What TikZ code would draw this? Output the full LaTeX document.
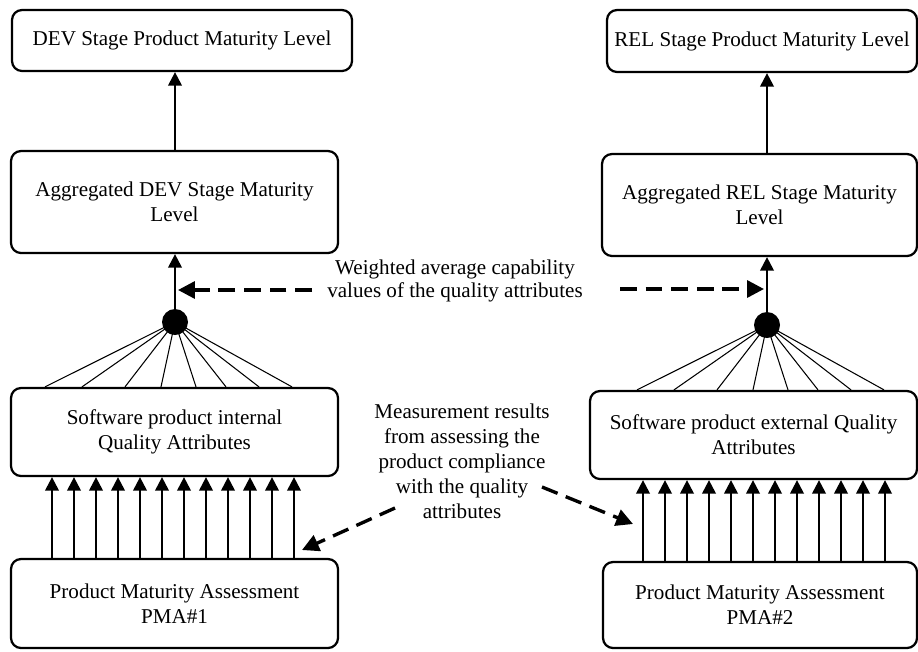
\documentclass[tikz,border=0pt]{standalone}
\usepackage{fontspec}
\setmainfont{Liberation Serif}
\usetikzlibrary{arrows.meta}

\begin{document}
\begin{tikzpicture}[
    box/.style={draw, line width=1.6pt, rounded corners=0.25cm, align=center, inner sep=0pt},
    arr/.style={line width=1.6pt, -{Triangle[length=0.34cm, width=0.34cm]}},
    fan/.style={line width=0.75pt},
    hint/.style={line width=2.4pt, dash pattern=on 0.42cm off 0.22cm, -{Triangle[length=0.42cm, width=0.42cm]}},
    hub/.style={circle, fill, inner sep=0pt, minimum size=0.65cm},
    font=\fontsize{15pt}{17.8pt}\selectfont
]
    \useasboundingbox (0cm,0cm) rectangle (22.95cm,-16.275cm);

    % DEV stage
    \node[box, minimum width=8.5cm, minimum height=1.525cm] (devtop) at (4.55cm,-1.0125cm) {DEV Stage Product Maturity Level};
    \node[box, minimum width=8.175cm, minimum height=2.55cm] (devagg) at (4.3625cm,-5.05cm) {Aggregated DEV Stage Maturity\\Level};
    \node[box, minimum width=8.175cm, minimum height=2.2cm] (intqa) at (4.3625cm,-10.8cm) {Software product internal\\Quality Attributes};
    \node[box, minimum width=8.175cm, minimum height=2.225cm] (pma1) at (4.3625cm,-15.0875cm) {Product Maturity Assessment\\PMA\#1};
    \node[hub] (dot1) at (4.375cm,-8.05cm) {};

    % REL stage
    \node[box, minimum width=7.75cm, minimum height=1.55cm] (reltop) at (19.05cm,-1.025cm) {REL Stage Product Maturity Level};
    \node[box, minimum width=7.875cm, minimum height=2.55cm] (relagg) at (18.9875cm,-5.125cm) {Aggregated REL Stage Maturity\\Level};
    \node[box, minimum width=8.175cm, minimum height=2.2cm] (extqa) at (18.8375cm,-10.875cm) {Software product external Quality\\Attributes};
    \node[box, minimum width=7.85cm, minimum height=2.15cm] (pma2) at (19cm,-15.125cm) {Product Maturity Assessment\\PMA\#2};
    \node[hub] (dot2) at (19.175cm,-8.125cm) {};

    % comments in the middle
    \node[align=center, font=\fontsize{15pt}{16.5pt}\selectfont] (wtext) at (11.375cm,-7.025cm) {Weighted average capability\\values of the quality attributes};
    \node[align=center] (mtext) at (11.55cm,-11.525cm) {Measurement results\\from assessing the\\product compliance\\with the quality\\attributes};

    \draw[arr] (dot1 |- devagg.north) -- (dot1 |- devtop.south);
    \draw[arr] (dot1.center) -- (dot1 |- devagg.south);
    \draw[arr] (dot2 |- relagg.north) -- (dot2 |- reltop.south);
    \draw[arr] (dot2.center) -- (dot2 |- relagg.south);

    \foreach \d in {-3.25,-2.325,-1.25,-0.35,0.525,1.275,2.1,2.925}{
        \coordinate (f1) at ([xshift=\d cm]dot1.center);
        \coordinate (f2) at ([xshift=\d cm]dot2.center);
        \draw[fan] (dot1.center) -- (f1 |- intqa.north);
        \draw[fan] (dot2.center) -- (f2 |- extqa.north);
    }

    \foreach \i in {0,...,11}{
        \coordinate (a1) at (1.3cm+0.55cm*\i,0cm);
        \coordinate (a2) at (16.075cm+0.55cm*\i,0cm);
        \draw[arr] (pma1.north -| a1) -- (intqa.south -| a1);
        \draw[arr] (pma2.north -| a2) -- (extqa.south -| a2);
    }

    \coordinate (w1) at (7.8cm,-7.25cm);
    \coordinate (w1end) at (4.45cm,-7.25cm);
    \coordinate (w2) at (15.5cm,-7.225cm);
    \coordinate (w2end) at (19.1cm,-7.225cm);
    \coordinate (m1) at (9.875cm,-12.7cm);
    \coordinate (m1end) at (7.55cm,-13.75cm);
    \coordinate (m2) at (13.55cm,-12.175cm);
    \coordinate (m2end) at (15.825cm,-13.1cm);

    \draw[hint] (w1) -- (w1end);
    \draw[hint] (w2) -- (w2end);
    \draw[hint] (m1) -- (m1end);
    \draw[hint] (m2) -- (m2end);
\end{tikzpicture}
\end{document}
